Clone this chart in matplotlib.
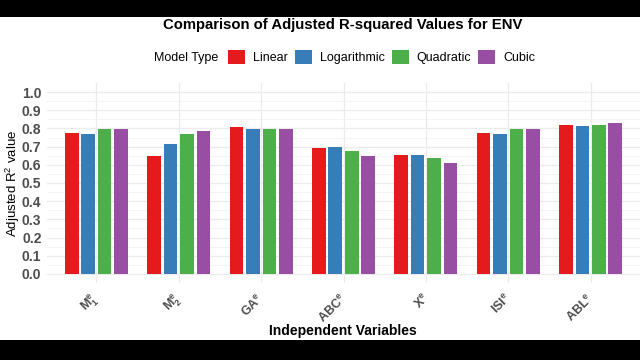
import matplotlib.pyplot as plt
import matplotlib.transforms as mtransforms
from matplotlib.patches import Rectangle, Patch
import numpy as np

categories = [r'$\mathbf{M}_\mathbf{1}^\mathbf{e}$', r'$\mathbf{M}_\mathbf{2}^\mathbf{e}$',
              r'$\mathbf{GA}^\mathbf{e}$', r'$\mathbf{ABC}^\mathbf{e}$',
              r'$\mathbf{X}^\mathbf{e}$', r'$\mathbf{ISI}^\mathbf{e}$',
              r'$\mathbf{ABL}^\mathbf{e}$']
models = ['Linear', 'Logarithmic', 'Quadratic', 'Cubic']
linear = [0.775, 0.649, 0.806, 0.692, 0.655, 0.775, 0.821]
logarithmic = [0.771, 0.712, 0.799, 0.696, 0.655, 0.768, 0.815]
quadratic = [0.795, 0.771, 0.799, 0.675, 0.635, 0.795, 0.821]
cubic = [0.795, 0.786, 0.799, 0.649, 0.609, 0.795, 0.828]
colors = ['#E41A1C', '#377EB8', '#4DAF4A', '#984EA3']

plt.rcParams['font.family'] = ['Liberation Sans', 'DejaVu Sans']
plt.rcParams['mathtext.fontset'] = 'custom'
plt.rcParams['mathtext.rm'] = 'Liberation Sans'
plt.rcParams['mathtext.bf'] = 'Liberation Sans:bold'
plt.rcParams['mathtext.it'] = 'Liberation Sans:italic'

fig = plt.figure(figsize=(6.4, 3.6), dpi=100)
ax = fig.add_axes([47 / 640, 77 / 360, 593 / 640, 200 / 360])

x = np.arange(1, len(categories) + 1)
slot = 0.2
for i, (vals, col) in enumerate(zip([linear, logarithmic, quadratic, cubic], colors)):
    ax.bar(x + (i - 1.5) * slot, vals, width=0.165, color=col, zorder=2)

ax.set_xlim(0.4, 7.6)
ax.set_ylim(-0.05, 1.05)
ax.set_yticks(np.arange(0, 1.01, 0.1))
ax.set_yticklabels([f'{v:.1f}' for v in np.arange(0, 1.01, 0.1)])
ax.set_yticks(np.arange(0.05, 1.0, 0.1), minor=True)
ax.set_xticks(x)
ax.set_xticklabels(categories, rotation=45, ha='right', va='top')
ax.tick_params(axis='both', which='both', length=0, colors='#4D4D4D')
ax.tick_params(axis='y', pad=4, labelsize=10)
ax.tick_params(axis='x', pad=6, labelsize=9)
for lab in ax.get_yticklabels():
    lab.set_fontweight('bold')
# nudge the rotated category labels a little to the right, as in the original
shift = mtransforms.ScaledTranslation(6 / 100, 0, fig.dpi_scale_trans)
for lab in ax.get_xticklabels():
    lab.set_transform(lab.get_transform() + shift)
ax.grid(True, which='major', color='#EBEBEB', linewidth=0.9, zorder=0)
ax.grid(True, which='minor', axis='y', color='#F2F2F2', linewidth=0.6, zorder=0)
for s in ax.spines.values():
    s.set_visible(False)
ax.set_axisbelow(True)

fig.text(13 / 640, 1 - 183 / 360, r'Adjusted R$^2$ value', rotation=90,
         ha='center', va='center', fontsize=9.5)
fig.text(343 / 640, 1 - 331 / 360, 'Independent Variables', ha='center', va='center',
         fontsize=10, fontweight='bold')

fig.text(343 / 640, 1 - 25 / 360, 'Comparison of Adjusted R-squared Values for ENV',
         ha='center', va='center', fontsize=10.7, fontweight='bold')
fig.text(154 / 640, 1 - 58 / 360, 'Model Type', ha='left', va='center', fontsize=9)
handles = [Patch(facecolor=c) for c in colors]
fig.legend(handles, models, ncol=4, frameon=False, fontsize=9,
           loc='center left', bbox_to_anchor=(228 / 640, 1 - 57 / 360),
           borderpad=0, borderaxespad=0, handlelength=1.36, handleheight=1.36,
           handletextpad=0.64, columnspacing=0.56)

# black letterbox bands
fig.patches.append(Rectangle((0, 1 - 17 / 360), 1, 17 / 360, transform=fig.transFigure,
                             facecolor='black', zorder=10))
fig.patches.append(Rectangle((0, 0), 1, 20 / 360, transform=fig.transFigure,
                             facecolor='black', zorder=10))

fig.savefig('out.png', dpi=100)
